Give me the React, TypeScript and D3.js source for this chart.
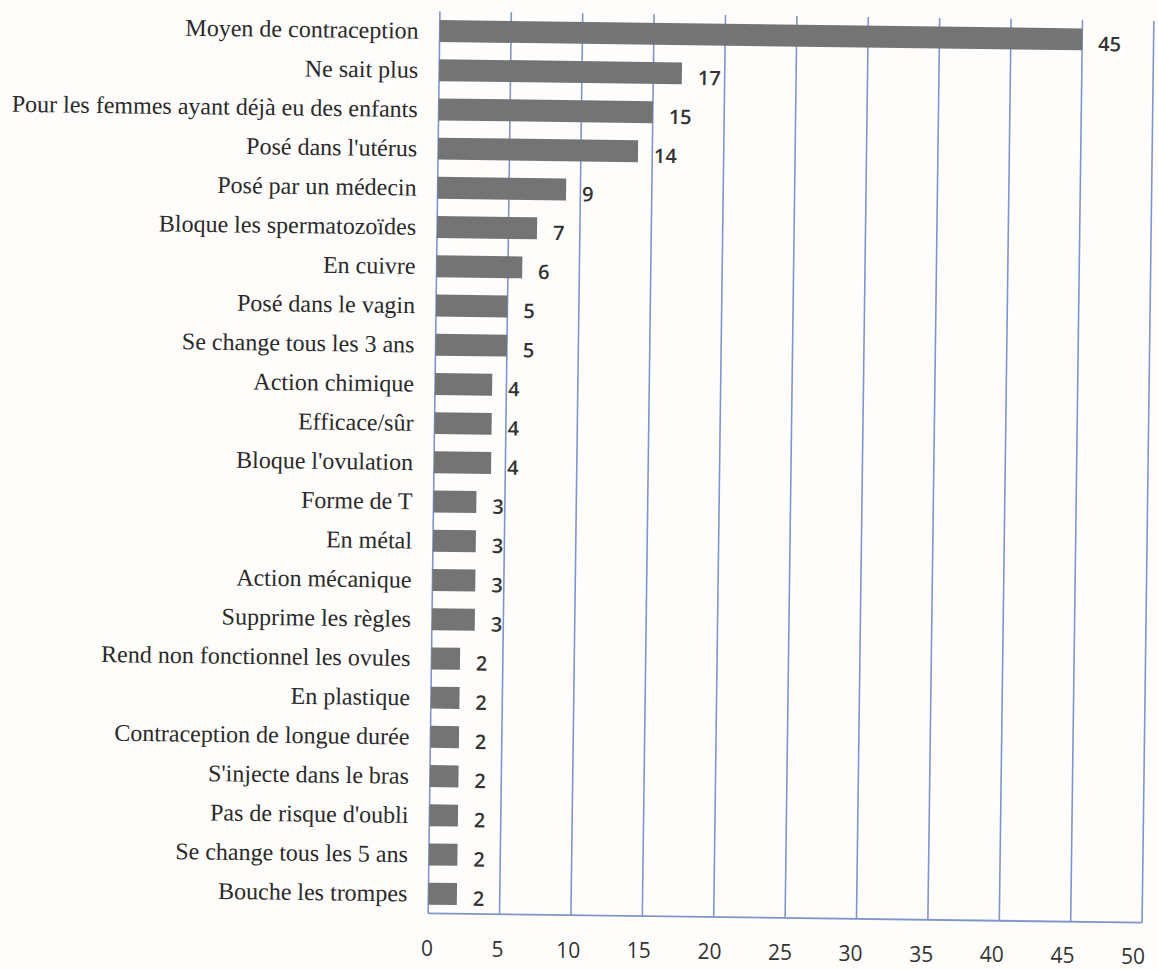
import React from "react";
import * as d3 from "d3";

const categories: string[] = [
  "Moyen de contraception",
  "Ne sait plus",
  "Pour les femmes ayant déjà eu des enfants",
  "Posé dans l'utérus",
  "Posé par un médecin",
  "Bloque les spermatozoïdes",
  "En cuivre",
  "Posé dans le vagin",
  "Se change tous les 3 ans",
  "Action chimique",
  "Efficace/sûr",
  "Bloque l'ovulation",
  "Forme de T",
  "En métal ",
  "Action mécanique",
  "Supprime les règles",
  "Rend non fonctionnel les ovules",
  "En plastique",
  "Contraception de longue durée",
  "S'injecte dans le bras",
  "Pas de risque d'oubli",
  "Se change tous les 5 ans",
  "Bouche les trompes",
];

const values: number[] = [45, 17, 15, 14, 9, 7, 6, 5, 5, 4, 4, 4, 3, 3, 3, 3, 2, 2, 2, 2, 2, 2, 2];

const xTicks: number[] = [0, 5, 10, 15, 20, 25, 30, 35, 40, 45, 50];

const W = 1158;
const H = 969;
const cx = 791;
const cy = 467;
const plotW = 714;
const plotH = 902;
const left = cx - plotW / 2;
const top = cy - plotH / 2;

export default function App() {
  const x = d3.scaleLinear().domain([0, 50]).range([left, left + plotW]);
  const xLab = d3.scaleLinear().domain([0, 50]).range([left - 7, left + plotW - 15]);
  const y = d3
    .scaleBand<string>()
    .domain(categories)
    .range([top, top + plotH])
    .paddingInner(0.44)
    .paddingOuter(0.22);
  const gridColor = "#7f95cc";
  const bottom = top + plotH;
  return (
    <svg
      width={W}
      height={H}
      style={{ position: "absolute", left: 0, top: 0, display: "block", background: "#fffdfc" }}
    >
      <g transform={`rotate(0.75, ${cx}, ${cy})`}>
        {xTicks.map((t) => (
          <line
            key={"g" + t}
            x1={x(t)}
            x2={x(t)}
            y1={top}
            y2={bottom}
            stroke={gridColor}
            strokeWidth={1.6}
          />
        ))}
        <line x1={x(0)} x2={x(50)} y1={bottom} y2={bottom} stroke={gridColor} strokeWidth={1.8} />
        {categories.map((c, i) => (
          <rect
            key={"b" + i}
            x={x(0)}
            y={y(c)!}
            width={x(values[i]) - x(0)}
            height={y.bandwidth()}
            fill="#747474"
          />
        ))}
        {categories.map((c, i) => (
          <text
            key={"l" + i}
            x={x(0) - 21}
            y={y(c)! + y.bandwidth() / 2}
            textAnchor="end"
            dominantBaseline="central"
            fontFamily="'Liberation Serif', 'Times New Roman', serif"
            fontSize={24}
            fill="#2a2a2a"
          >
            {c}
          </text>
        ))}
        {categories.map((c, i) => (
          <text
            key={"v" + i}
            x={x(values[i]) + 16}
            y={y(c)! + y.bandwidth() / 2 + 4}
            textAnchor="start"
            dominantBaseline="central"
            fontFamily="'Open Sans', 'Noto Sans', sans-serif"
            fontWeight={600}
            fontSize={20}
            fill="#333"
          >
            {values[i]}
          </text>
        ))}
      </g>
      {xTicks.map((t) => (
        <text
          key={"t" + t}
          x={xLab(t)}
          y={bottom + 34 + (x(t) - cx) * 0.011}
          textAnchor="middle"
          dominantBaseline="central"
          fontFamily="'Open Sans', 'Noto Sans', sans-serif"
          fontSize={21}
          fill="#333"
        >
          {t}
        </text>
      ))}
    </svg>
  );
}
